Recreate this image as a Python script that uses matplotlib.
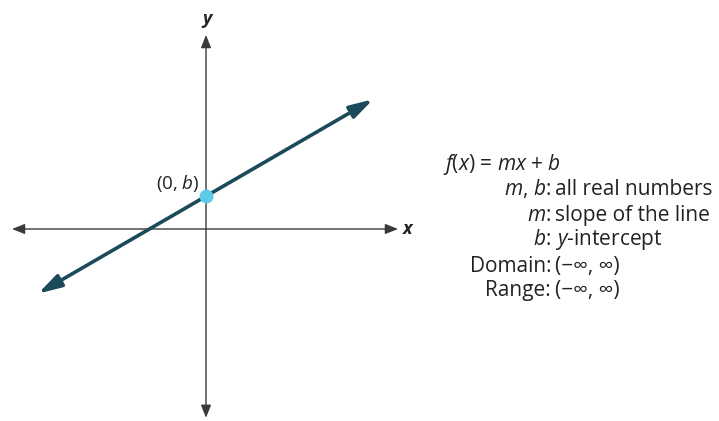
import numpy as np
import matplotlib.pyplot as plt

plt.rcParams["font.family"] = ["Open Sans", "DejaVu Sans"]
plt.rcParams["mathtext.fontset"] = "custom"
plt.rcParams["mathtext.rm"] = "Open Sans"
plt.rcParams["mathtext.it"] = "Open Sans:italic"
plt.rcParams["mathtext.bf"] = "Open Sans:bold"

# line f(x) = m x + b, drawn between two arrow tips
slope = 0.58
intercept = 0.82
line_x = np.array([-4.2, 4.18])

# axis extents (arrow tips)
x_axis = [-4.85, 4.8]
y_axis = [-4.72, 4.85]

formula = r"$f$($x$) = $mx$ + $b$"
keys = [r"$m$, $b$:", r"$m$:", r"$b$:", "Domain:", "Range:"]
values = ["all real numbers", "slope of the line", r"$y$-intercept",
          "(\u2212\u221e, \u221e)", "(\u2212\u221e, \u221e)"]

fig = plt.figure(figsize=(7.19, 4.21), dpi=100)
ax = fig.add_axes([0, 0, 1, 1])
ax.set_xlim(-5.15, 12.825)
ax.set_ylim(-4.8, 5.725)
ax.axis("off")

axis_col = "#3a3a3a"
axis_arrow = "<|-|>,head_length=0.55,head_width=0.22"
ax.annotate("", xy=(x_axis[1], 0), xytext=(x_axis[0], 0),
            arrowprops=dict(arrowstyle=axis_arrow, color=axis_col, lw=1.0,
                            mutation_scale=14, shrinkA=0, shrinkB=0))
ax.annotate("", xy=(0, y_axis[1]), xytext=(0, y_axis[0]),
            arrowprops=dict(arrowstyle=axis_arrow, color=axis_col, lw=1.0,
                            mutation_scale=14, shrinkA=0, shrinkB=0))
ax.text(x_axis[1] + 0.12, 0, "x", fontsize=13, fontstyle="italic",
        fontweight="bold", va="center", ha="left", color="#222222")
ax.text(0.02, y_axis[1] + 0.18, "y", fontsize=13, fontstyle="italic",
        fontweight="bold", va="bottom", ha="center", color="#222222")

line_y = slope * line_x + intercept
ax.annotate("", xy=(line_x[1], line_y[1]), xytext=(line_x[0], line_y[0]),
            arrowprops=dict(arrowstyle="<|-|>,head_length=0.7,head_width=0.2",
                            color="#1b4a5a", lw=2.6,
                            mutation_scale=20, shrinkA=0, shrinkB=0))
ax.plot([0], [intercept], "o", color="#5ccbe8", markersize=9, zorder=5)
ax.text(-0.15, intercept + 0.05, r"(0, $b$)", fontsize=13.5, ha="right",
        va="bottom", color="#222222")

# text block on the right
def py(p):
    return (229 - p) / 40.0

tc = "#222222"
fs = 15
ax.text((443 - 206) / 40.0, py(170), formula, fontsize=fs, ha="left",
        va="baseline", color=tc)
baselines = [195, 221, 245, 272, 296]
for k, v, b in zip(keys, values, baselines):
    ax.text((551 - 206) / 40.0, py(b), k, fontsize=fs, ha="right",
            va="baseline", color=tc)
    ax.text((555 - 206) / 40.0, py(b), v, fontsize=fs, ha="left",
            va="baseline", color=tc)

fig.savefig("out.png", dpi=100, facecolor="white")
